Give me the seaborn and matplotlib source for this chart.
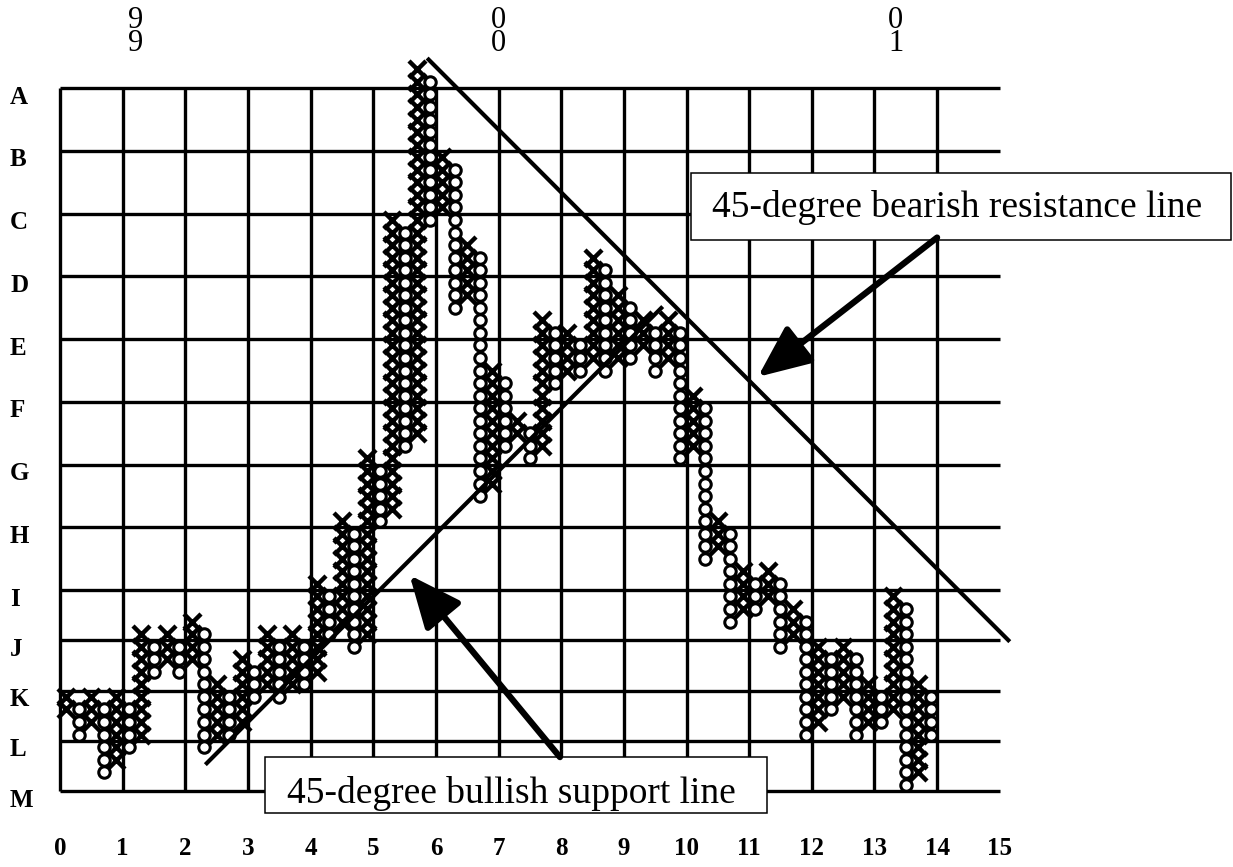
import numpy as np
import pandas as pd
import matplotlib
matplotlib.use('Agg')
import matplotlib.pyplot as plt
from matplotlib.patches import Rectangle
import seaborn as sns

# point & figure columns (box units, M row = 0)
col_kind = ['X', 'O'] * 35
col_low = [6, 4, 5, 1, 2, 3, 4, 9, 10, 9,
           10, 3, 4, 4, 5, 7, 8, 7, 8, 8,
           9, 12, 13, 11, 12, 21, 22, 27, 28, 45,
           46, 38, 39, 23, 24, 27, 28, 26, 27, 32,
           33, 33, 34, 33, 34, 34, 35, 33, 34, 26,
           27, 18, 19, 13, 14, 14, 15, 11, 12, 4,
           5, 6, 7, 4, 5, 5, 6, 0, 1, 4]
col_high = [7, 6, 7, 6, 7, 6, 12, 11, 12, 11,
            13, 12, 8, 7, 10, 9, 12, 11, 12, 11,
            16, 15, 21, 20, 26, 25, 45, 44, 57, 56,
            50, 49, 43, 42, 33, 32, 29, 28, 37, 36,
            36, 35, 42, 41, 39, 38, 37, 36, 37, 36,
            31, 30, 21, 20, 17, 16, 17, 16, 14, 13,
            11, 10, 11, 10, 8, 7, 15, 14, 8, 7]

row_labels = list('ABCDEFGHIJKLM')
row_levels = [56, 51, 46, 41, 36, 31, 26, 21, 16, 12, 8, 4, 0]
x_labels = [str(i) for i in range(16)]
year_marks = ['99', '00', '01']
year_pos = [6.0, 35.0, 66.7]

support_line = ([11.6, 48.1], [2.1, 38.6])
resist_line = ([29.3, 75.8], [58.4, 11.9])

# expand each column into its boxes
rows = []
for i, kind in enumerate(col_kind):
    for b in range(col_low[i], col_high[i] + 1):
        rows.append({'col': i + 0.5, 'box': b + 0.5, 'kind': kind})
pnf = pd.DataFrame(rows)

fig = plt.figure(figsize=(12.33, 8.67), dpi=100)
ax = fig.add_axes([0, 0, 1, 1])
ax.set_xlim(-60 / 12.53, (1233 - 60) / 12.53)
ax.set_ylim((791 - 867) / 12.55, 791 / 12.55)
ax.set_axis_off()

# grid
ax.hlines(row_levels, 0, 75, color='black', lw=2.4, zorder=1)
ax.vlines([5 * i for i in range(15)], 0, 56, color='black', lw=2.4, zorder=1)

sns.scatterplot(data=pnf[pnf['kind'] == 'X'], x='col', y='box', marker='x',
                s=150, color='black', linewidth=3.2, ax=ax, legend=False, zorder=2)
sns.scatterplot(data=pnf[pnf['kind'] == 'O'], x='col', y='box', marker='o',
                s=68, color='white', edgecolor='black', linewidth=2.2,
                ax=ax, legend=False, zorder=3)

ax.plot(*support_line, color='black', lw=3, zorder=4, solid_capstyle='butt')
ax.plot(*resist_line, color='black', lw=3, zorder=4, solid_capstyle='butt')

serif = ['Liberation Serif', 'DejaVu Serif']
for lab, lev in zip(row_labels, row_levels):
    ax.text(-3.99, lev - 0.72, lab, ha='left', va='center', fontsize=18,
            fontweight='bold', family=serif)
for i, lab in enumerate(x_labels):
    ax.text(5 * i, -4.62, lab, ha='center', va='center', fontsize=18,
            fontweight='bold', family=serif)
for lab, xp in zip(year_marks, year_pos):
    ax.text(xp, 60.5, lab[0] + '\n' + lab[1], ha='center', va='center',
            fontsize=22, family=serif, linespacing=0.72)

# callout boxes
bear_box = Rectangle((50.36, 43.9), 43.1, 5.34, facecolor='white',
                     edgecolor='black', lw=1.1, zorder=5)
ax.add_patch(bear_box)
ax.text(52.0, 45.7, '45-degree bearish resistance line', ha='left', va='baseline',
        fontsize=27, family=serif, zorder=6)

bull_box = Rectangle((16.36, -1.75), 40.06, 4.46, facecolor='white',
                     edgecolor='black', lw=1.1, zorder=5)
ax.add_patch(bull_box)
t = ax.text(18.1, -0.96, '45-degree bullish support line', ha='left', va='baseline',
            fontsize=27, family=serif, zorder=6)
t.set_clip_path(bull_box)

arrow = dict(arrowstyle='-|>,head_length=0.8,head_width=0.35', lw=4.5,
             color='black', mutation_scale=40, shrinkA=0, shrinkB=0)
ax.annotate('', xy=(55.7, 33.0), xytext=(70.0, 44.1), arrowprops=arrow, zorder=7)
ax.annotate('', xy=(27.9, 17.2), xytext=(39.9, 2.7), arrowprops=arrow, zorder=7)

fig.savefig('out.png', dpi=100, facecolor='white')
